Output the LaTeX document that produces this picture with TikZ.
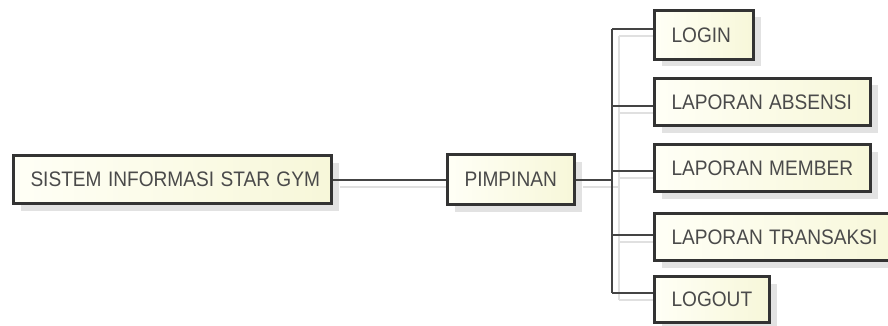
\documentclass[tikz,border=0pt]{standalone}
\usepackage{fontspec}
\setmainfont{Liberation Sans}
\usetikzlibrary{shadows,calc}
\definecolor{bordercol}{HTML}{333333}
\definecolor{txtcol}{HTML}{4A4A4A}
\definecolor{linecol}{HTML}{444444}
\definecolor{fillA}{HTML}{FFFFF6}
\definecolor{fillB}{HTML}{F7F7D9}
\newcommand{\lbl}[1]{\scalebox{0.91}[1]{#1}}
\tikzset{
  menubox/.style={draw=bordercol, line width=3pt, left color=fillA, right color=fillB,
    inner sep=0pt, inner xsep=17pt, align=left, text=txtcol,
    font=\fontsize{21}{24}\selectfont,
    drop shadow={shadow xshift=7pt, shadow yshift=-7pt, fill=black!14, opacity=0.8}},
  conn/.style={draw=linecol, line width=1.5pt},
  connshadow/.style={draw=black!12, line width=1.2pt}
}
\begin{document}
\begin{tikzpicture}[x=1pt,y=-1pt]
\useasboundingbox (0,0) rectangle (888,326);
\begin{scope}
\clip (0,0) rectangle (888,326);
% connector shadows
\draw[connshadow] (340,187) -- (453,187);
\draw[connshadow] (583,187) -- (619,187);
\draw[connshadow] (619,36) -- (619,300);
\foreach \y in {36,113,178,242,300} \draw[connshadow] (619,\y) -- (660,\y);
% nodes
\node[menubox, minimum height=48pt, text width=284pt] (sys) at (172.5,179.5) {\lbl{SISTEM INFORMASI STAR GYM}};
\node[menubox, minimum height=50pt, text width=93pt] (pim) at (511,179.5) {\lbl{PIMPINAN}};
\node[menubox, minimum height=49pt, text width=65pt] (login) at (704,35) {\lbl{LOGIN}};
\node[menubox, minimum height=47pt, text width=182pt] (abs) at (762.5,102) {\lbl{LAPORAN ABSENSI}};
\node[menubox, minimum height=47pt, text width=182pt] (mem) at (762.5,168) {\lbl{LAPORAN MEMBER}};
\node[menubox, minimum height=47pt, text width=215pt] (trx) at (779,237) {\lbl{LAPORAN TRANSAKSI}};
\node[menubox, minimum height=46pt, text width=81pt] (out) at (712,299.5) {\lbl{LOGOUT}};
% connectors
\coordinate (j) at (612,180);
\coordinate (b1) at (612,29);
\coordinate (b2) at (612,106);
\coordinate (b3) at (612,171);
\coordinate (b4) at (612,235);
\coordinate (b5) at (612,293);
\draw[conn] (sys.east |- j) -- (pim.west |- j);
\draw[conn] (pim.east |- j) -- (j);
\draw[conn] (b1) -- (b5);
\draw[conn] (b1) -- (b1 -| login.west);
\draw[conn] (b2) -- (b2 -| abs.west);
\draw[conn] (b3) -- (b3 -| mem.west);
\draw[conn] (b4) -- (b4 -| trx.west);
\draw[conn] (b5) -- (b5 -| out.west);
\end{scope}
\end{tikzpicture}
\end{document}
